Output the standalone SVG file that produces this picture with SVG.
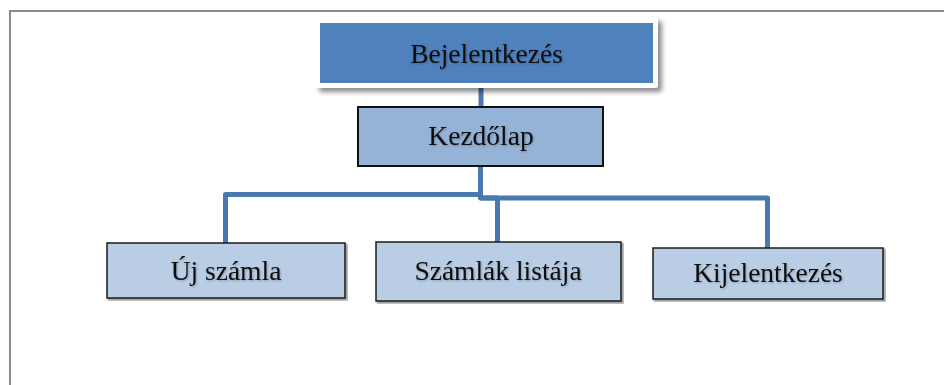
<svg xmlns="http://www.w3.org/2000/svg" width="944" height="385" viewBox="0 0 944 385">
<defs>
<filter id="sh" x="-10%" y="-20%" width="130%" height="160%">
<feGaussianBlur in="SourceAlpha" stdDeviation="2.5"/>
<feOffset dx="4" dy="4" result="b"/>
<feComponentTransfer><feFuncA type="linear" slope="0.45"/></feComponentTransfer>
<feMerge><feMergeNode/><feMergeNode in="SourceGraphic"/></feMerge>
</filter>
<filter id="ts" x="-5%" y="-20%" width="115%" height="150%">
<feGaussianBlur in="SourceAlpha" stdDeviation="0.8"/>
<feOffset dx="1" dy="1.2"/>
<feComponentTransfer><feFuncA type="linear" slope="0.25"/></feComponentTransfer>
<feMerge><feMergeNode/><feMergeNode in="SourceGraphic"/></feMerge>
</filter>
<filter id="bs" x="-5%" y="-10%" width="110%" height="130%">
<feOffset in="SourceAlpha" dx="1.5" dy="1.5"/>
<feComponentTransfer><feFuncA type="linear" slope="0.35"/></feComponentTransfer>
<feMerge><feMergeNode/><feMergeNode in="SourceGraphic"/></feMerge>
</filter>
</defs>
<style>
.lbl{font-family:"Liberation Serif","Times New Roman",serif;font-size:27.5px;fill:#0d0d0d;text-anchor:middle}
.con{fill:none;stroke:#4a78b0;stroke-width:5;stroke-linejoin:round}
.child{fill:#b9cde5;stroke:#1a1a1a;stroke-width:1.5}
.frame{stroke:#8a8a8a;stroke-width:2;fill:none}
</style>
<rect width="944" height="385" fill="#ffffff"/>
<path class="frame" d="M10 385 V11 H944"/>
<g id="connectors">
<path class="con" d="M481 86 V108"/>
<path class="con" d="M480.5 166 V194.5 H225.5 V243"/>
<path class="con" d="M480.5 166 V198 H497.5 V242"/>
<path class="con" d="M480.5 198 H767.5 V248"/>
</g>
<g id="bejelentkezes">
<rect x="315" y="17" width="343" height="71" rx="3" fill="#ffffff" filter="url(#sh)"/>
<rect x="320" y="23" width="333" height="60" fill="#4f81bd"/>
<text class="lbl" x="486.5" y="63" filter="url(#ts)">Bejelentkezés</text>
</g>
<g id="kezdolap">
<rect x="358" y="107" width="245" height="59" fill="#95b3d7" stroke="#111111" stroke-width="2"/>
<text class="lbl" x="481" y="145" filter="url(#ts)">Kezdőlap</text>
</g>
<g id="uj-szamla">
<rect class="child" x="107" y="243" width="238" height="55" filter="url(#bs)"/>
<text class="lbl" x="226" y="280" filter="url(#ts)">Új számla</text>
</g>
<g id="szamlak-listaja">
<rect class="child" x="376" y="242" width="245" height="59" filter="url(#bs)"/>
<text class="lbl" x="498" y="280" filter="url(#ts)">Számlák listája</text>
</g>
<g id="kijelentkezes">
<rect class="child" x="653" y="248" width="230" height="51" filter="url(#bs)"/>
<text class="lbl" x="768" y="282" filter="url(#ts)">Kijelentkezés</text>
</g>
</svg>
